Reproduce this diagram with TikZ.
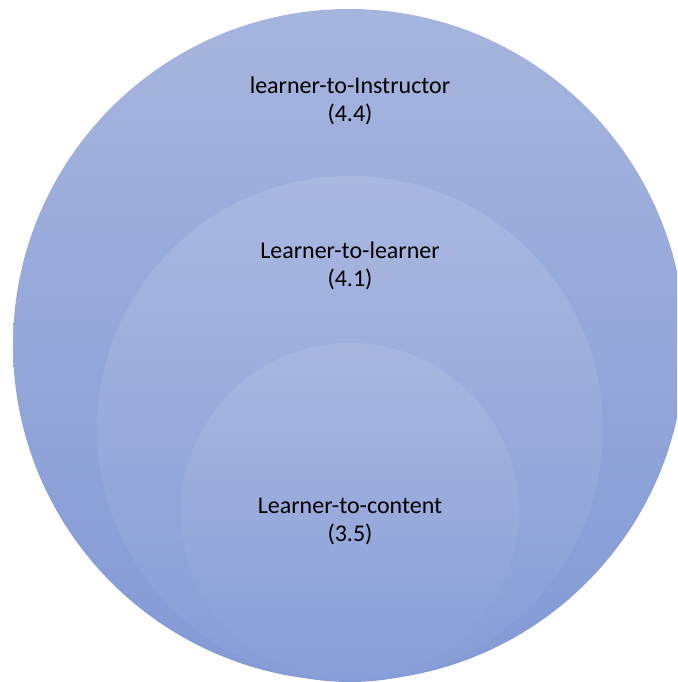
\documentclass[tikz,border=0pt]{standalone}
\usepackage{fontspec}
\setmainfont{Carlito}
\usepackage{tikz}
\usetikzlibrary{positioning}
\usepackage{xcolor}
\definecolor{ringtop}{RGB}{166,181,222}
\definecolor{ringbot}{RGB}{131,154,214}
\definecolor{midtop}{RGB}{170,184,224}
\definecolor{midbot}{RGB}{134,157,215}
\definecolor{intop}{RGB}{169,183,223}
\definecolor{inbot}{RGB}{135,158,216}
\tikzstyle{ring} = [circle, inner sep=0pt, draw=none]
\tikzstyle{label} = [align=center, text=black, font=\fontsize{24}{28}\selectfont]

\begin{document}
\begin{tikzpicture}[x=1pt, y=-1pt]
\useasboundingbox (0,0) rectangle (677,682);
\clip (0,0) rectangle (677,682);
% Circles
\node[ring, minimum size=672pt, top color=ringtop, bottom color=ringbot] (outer) at (349,345) {};
\node[ring, minimum size=506pt, top color=midtop, bottom color=midbot] (middle) at (350,429) {};
\node[ring, minimum size=338pt, top color=intop, bottom color=inbot] (inner) at (350,512) {};

% Labels
\node[label] (instructor) at (350,101) {learner-to-Instructor\\(4.4)};
\node[label] (peer) at (350,266) {Learner-to-learner\\(4.1)};
\node[label] (content) at (350,521) {Learner-to-content\\(3.5)};
\end{tikzpicture}
\end{document}
